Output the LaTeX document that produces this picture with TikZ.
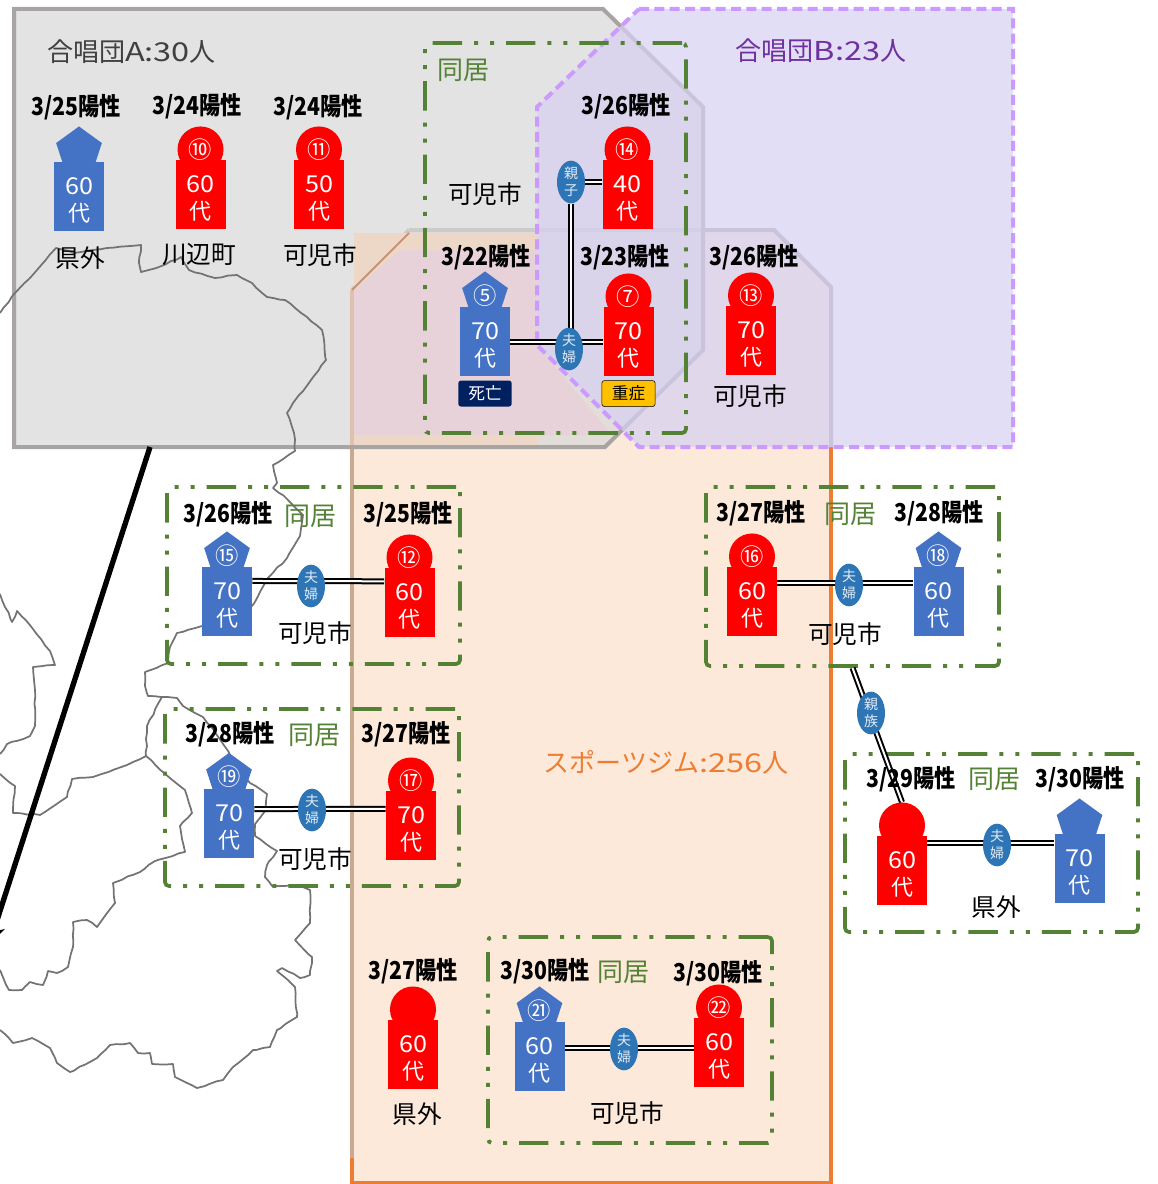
\documentclass[tikz,border=0pt]{standalone}
\usepackage{fontspec}
\setmainfont{Noto Sans CJK JP}
\newfontfamily\datefont[FakeStretch=0.86]{Noto Sans CJK JP}
\newfontfamily\widefont[FakeStretch=1.25]{Noto Sans CJK JP}
\newfontfamily\agefont[FakeStretch=1.08]{Noto Sans CJK JP}

\usetikzlibrary{shapes.geometric,arrows.meta,positioning,fit,backgrounds,decorations.pathmorphing}

\definecolor{blueperson}{HTML}{4472C4}
\definecolor{redperson}{HTML}{FF0000}
\definecolor{bondblue}{HTML}{2E75B6}
\definecolor{groupgreen}{HTML}{548235}
\definecolor{regiongray}{HTML}{D9D9D9}
\definecolor{regionedge}{HTML}{A8A4A4}
\definecolor{regionlilac}{HTML}{D7D1F2}
\definecolor{regionpurple}{HTML}{CC99FF}
\definecolor{regionpeach}{HTML}{FDE9DA}
\definecolor{regionorange}{HTML}{ED7D31}
\definecolor{overlappink}{HTML}{E8D2DA}
\definecolor{overlapbeige}{HTML}{EDD8C8}
\definecolor{fadedtan}{HTML}{C9A98F}
\definecolor{labelgray}{HTML}{404040}
\definecolor{labelpurple}{HTML}{7030A0}
\definecolor{deadnavy}{HTML}{002060}
\definecolor{severegold}{HTML}{FFC000}

\newcommand{\nendai}[1]{\rule{0pt}{19pt}{\agefont\fontsize{17.5}{20.5}\selectfont #1}\\{\fontsize{16.5}{20.5}\selectfont 代}}
\newcommand{\wide}[1]{{\widefont #1}}

\begin{document}
\begin{tikzpicture}[
    x=0.75pt, y=-0.75pt,
    malebody/.style={rectangle, minimum width=37.5pt, minimum height=51.75pt, inner sep=0pt, fill=blueperson, text=white, align=center, font=\fontsize{15}{20.5}\selectfont},
    femalebody/.style={malebody, fill=redperson},
    malehead/.style={regular polygon, regular polygon sides=5, minimum size=36pt, inner sep=0pt, fill=blueperson, text=white, font=\fontsize{17.5}{19}\selectfont},
    femalehead/.style={circle, minimum size=34.5pt, inner sep=0pt, fill=redperson, text=white, font=\fontsize{17.5}{19}\selectfont},
    bond/.style={ellipse, minimum width=21pt, minimum height=32pt, inner sep=0pt, fill=bondblue, text=white!85!bondblue, align=center, font=\fontsize{10.5}{12.5}\selectfont},
    groupbox/.style={rectangle, rounded corners=3pt, draw=groupgreen, line width=2.8pt, inner sep=0pt, dash pattern=on 22pt off 9pt on 3pt off 9pt on 3pt off 9pt},
    kinline/.style={draw=black, double=white, double distance=1.5pt, line width=1.5pt},
    datelabel/.style={font=\datefont\bfseries\fontsize{18.5}{20}\selectfont, inner sep=0pt},
    placelabel/.style={font=\fontsize{18.5}{20}\selectfont, inner sep=0pt},
    grouplabel/.style={text=groupgreen, font=\fontsize{19.5}{22}\selectfont, inner sep=0pt},
    regionlabel/.style={font=\fontsize{19.5}{22}\selectfont, inner sep=0pt},
    statelabel/.style={rectangle, rounded corners=2pt, minimum width=40pt, minimum height=19.5pt, inner sep=0pt, font=\fontsize{12.5}{14}\selectfont},
    mapline/.style={draw=black!55, line width=1.3pt, line join=round, decorate, decoration={random steps, segment length=5pt, amplitude=0.5pt}},
    arrowline/.style={line width=4pt, -{Stealth[length=15pt,width=15pt]}}
]
\useasboundingbox (0,0) rectangle (1157,1184);
\clip (0,0) rectangle (1157,1184);

% Regions
\begin{scope}[on background layer]
\fill[regionpeach] (352,1183) -- (352,290) -- (409,230) -- (774,230) -- (831,287) -- (831,1183) -- cycle;
\draw[regionorange, line width=3pt] (352,290) -- (352,1183) -- (831,1183) -- (831,447);
\draw[regionorange!60!regionedge, line width=3pt] (352,290) -- (409,230);
\draw[regionedge, line width=3pt] (409,230) -- (774,230) -- (831,287) -- (831,447);
\draw[fadedtan, line width=3pt] (352,447) -- (352,1158);
\fill[regiongray, fill opacity=0.75] (14,9) -- (603,9) -- (703,107) -- (703,350) -- (605,447) -- (14,447) -- cycle;
\fill[overlapbeige] (354,233) -- (409,233) -- (537,233) -- (537,447) -- (354,447) -- cycle;
\fill[overlappink] (354,290) -- (400,250) -- (537,250) -- (537,345) -- (612,435) -- (354,435) -- cycle;
\draw[regionedge, line width=3pt] (14,9) -- (603,9) -- (703,107) -- (703,350) -- (605,447) -- (14,447) -- cycle;
\draw[regionorange!40!regionedge, line width=1.5pt] (352,290) -- (409,233);
\fill[regionlilac, fill opacity=0.72] (639,9) -- (1013,9) -- (1013,447) -- (639,447) -- (537,345) -- (537,107) -- cycle;
\draw[regionpurple, line width=3pt, dash pattern=on 7.5pt off 4pt] (639,9) -- (1013,9) -- (1013,447) -- (639,447) -- (537,345) -- (537,107) -- cycle;

% Map
\draw[mapline] (0,313) -- (15,293) -- (37,270) -- (56,248) -- (74,253) -- (107,248) -- (141,245) -- (139,263) -- (141,272) -- (159,267) -- (181,257) -- (189,270) -- (215,278) -- (237,275) -- (252,283) -- (267,297) -- (285,300) -- (307,317) -- (322,330) -- (326,360) -- (311,380) -- (293,403) -- (287,413) -- (294,433) -- (295,451) -- (273,465) -- (277,483) -- (273,488) -- (287,499) -- (303,515) -- (300,536) -- (287,558) -- (267,579) -- (252,606) -- (225,628) -- (202,626) -- (177,633) -- (170,647) -- (168,663) -- (145,672) -- (145,686) -- (148,696) -- (177,698) -- (183,706) -- (203,717) -- (213,729) -- (230,755) -- (250,783) -- (267,794) -- (265,811) -- (255,824) -- (255,836) -- (277,851) -- (267,865) -- (265,877) -- (272,886) -- (297,885) -- (310,890) -- (310,923) -- (295,940) -- (312,957) -- (310,975) -- (300,978) -- (282,968) -- (277,971) -- (295,987) -- (297,1017) -- (277,1030) -- (270,1047) -- (253,1050) -- (233,1067) -- (223,1080) -- (197,1088) -- (175,1077) -- (173,1064) -- (152,1064) -- (150,1053) -- (138,1053) -- (130,1043) -- (110,1045) -- (97,1058) -- (70,1072) -- (57,1063) -- (50,1048) -- (32,1038) -- (13,1043) -- (0,1030);
\draw[mapline] (162,697) -- (147,726) -- (146,756) -- (127,765) -- (93,777) -- (72,779) -- (67,797) -- (40,815) -- (13,813) -- (15,786) -- (0,774);
\draw[mapline] (146,756) -- (163,772) -- (185,790) -- (192,813) -- (180,826) -- (185,852) -- (155,861) -- (140,872) -- (113,883) -- (115,903) -- (97,927) -- (87,920) -- (73,922) -- (73,947) -- (68,967) -- (57,973) -- (48,971) -- (43,985) -- (30,982) -- (22,990) -- (9,990) -- (0,970);
\draw[mapline] (0,594) -- (12,622) -- (17,611) -- (33,629) -- (50,651) -- (55,665) -- (33,667) -- (35,690) -- (35,726) -- (30,736) -- (7,744) -- (0,754);

% Groups
\node[groupbox, fit={(425,43) (686,433)}] (g1) {};
\node[groupbox, fit={(167,487) (460,664)}] (g2) {};
\node[groupbox, fit={(165,709) (459,886)}] (g3) {};
\node[groupbox, fit={(706,487) (999,666)}] (g4) {};
\node[groupbox, fit={(845,754) (1138,932)}] (g5) {};
\node[groupbox, fit={(488,937) (772,1143)}] (g6) {};
\end{scope}

% Region labels
\node[regionlabel, text=labelgray] (choira) at (131.5,52) {合唱団\wide{A:30}人};
\node[regionlabel, text=labelpurple] (choirb) at (821,51) {合唱団\wide{B:23}人};
\node[regionlabel, text=regionorange] (gym) at (666,762) {スポーツジム\wide{:256}人};

% Choir A
\node[malebody] (pa) at (79,196.5) {\nendai{60}};
\node[malehead, above=-6.3pt of pa] (ha) {};
\node[datelabel] (da) at (76,107) {3/25陽性};
\node[placelabel] (la) at (80,258) {県外};

\node[femalebody] (p10) at (200.5,194.5) {\nendai{60}};
\node[femalehead, above=-9.75pt of p10] (h10) {⑩};
\node[datelabel] (d10) at (197,106) {3/24陽性};
\node[placelabel] (l10) at (199,255) {川辺町};

\node[femalebody] (p11) at (319,194.5) {\nendai{50}};
\node[femalehead, above=-9.75pt of p11] (h11) {⑪};
\node[datelabel] (d11) at (318,107) {3/24陽性};
\node[placelabel] (l11) at (320,255) {可児市};

% Household in both choirs
\node[grouplabel] (t1) at (463,70) {同居};
\node[placelabel] (l1) at (485,194) {可児市};

\node[femalebody] (p14) at (627.5,194.5) {\nendai{40}};
\node[femalehead, above=-9.75pt of p14] (h14) {⑭};
\node[datelabel] (d14) at (626,106) {3/26陽性};

\node[malebody] (p5) at (485,341.5) {\nendai{70}};
\node[malehead, above=-6.3pt of p5] (h5) {⑤};
\node[datelabel] (d5) at (486,257) {3/22陽性};
\node[statelabel, fill=deadnavy, text=white, below=3pt of p5] (dead) {死亡};

\node[femalebody] (p7) at (628.5,341.5) {\nendai{70}};
\node[femalehead, above=-9.75pt of p7] (h7) {⑦};
\node[datelabel] (d7) at (625,257) {3/23陽性};
\node[statelabel, fill=severegold, draw=black, line width=0.4pt, below=3pt of p7] (severe) {重症};

\node[bond] (oya) at (571,182) {親\\子};
\node[bond] (fufu1) at (569,349) {夫\\婦};

% Choir B
\node[femalebody] (p13) at (751,340.5) {\nendai{70}};
\node[femalehead, above=-9.75pt of p13] (h13) {⑬};
\node[datelabel] (d13) at (754,257) {3/26陽性};
\node[placelabel] (l13) at (750,396) {可児市};

% Gym, left households
\node[malebody] (p15) at (227,601.5) {\nendai{70}};
\node[malehead, above=-6.3pt of p15] (h15) {⑮};
\node[datelabel] (d15) at (228,514) {3/26陽性};
\node[femalebody] (p12) at (409.5,602.5) {\nendai{60}};
\node[femalehead, above=-9.75pt of p12] (h12) {⑫};
\node[datelabel] (d12) at (408,514) {3/25陽性};
\node[grouplabel] (t2) at (310,516) {同居};
\node[bond] (fufu2) at (311,586) {夫\\婦};
\node[placelabel] (l2) at (315,633) {可児市};

\node[malebody] (p19) at (229,823) {\nendai{70}};
\node[malehead, above=-6.3pt of p19] (h19) {⑲};
\node[datelabel] (d19) at (230,734) {3/28陽性};
\node[femalebody] (p17) at (411,825.5) {\nendai{70}};
\node[femalehead, above=-9.75pt of p17] (h17) {⑰};
\node[datelabel] (d17) at (406,734) {3/27陽性};
\node[grouplabel] (t3) at (314,735) {同居};
\node[bond] (fufu3) at (312,810) {夫\\婦};
\node[placelabel] (l3) at (315,859) {可児市};

% Gym, right households
\node[femalebody] (p16) at (752,601.5) {\nendai{60}};
\node[femalehead, above=-9.75pt of p16] (h16) {⑯};
\node[datelabel] (d16) at (761,513) {3/27陽性};
\node[malebody] (p18) at (938.5,601.5) {\nendai{60}};
\node[malehead, above=-6.3pt of p18] (h18) {⑱};
\node[datelabel] (d18) at (939,513) {3/28陽性};
\node[grouplabel] (t4) at (850,514) {同居};
\node[bond] (fufu4) at (849,585) {夫\\婦};
\node[placelabel] (l4) at (845,634) {可児市};

\node[femalebody] (pc) at (902,870.5) {\nendai{60}};
\node[femalehead, above=-9.75pt of pc] (hc) {};
\node[datelabel] (dc) at (911,779) {3/29陽性};
\node[malebody] (pd) at (1079.5,868.5) {\nendai{70}};
\node[malehead, above=-6.3pt of pd] (hd) {};
\node[datelabel] (dd) at (1080,779) {3/30陽性};
\node[grouplabel] (t5) at (994,779) {同居};
\node[bond] (fufu5) at (997,845) {夫\\婦};
\node[placelabel] (l5) at (996,907) {県外};
\node[bond] (shinzoku) at (871,713) {親\\族};

% Gym, bottom
\node[femalebody] (pe) at (413,1054.5) {\nendai{60}};
\node[femalehead, above=-9.75pt of pe] (he) {};
\node[datelabel] (de) at (413,971) {3/27陽性};
\node[placelabel] (le) at (417,1114) {県外};

\node[malebody] (p21) at (539.5,1056.5) {\nendai{60}};
\node[malehead, above=-6.3pt of p21] (h21) {㉑};
\node[datelabel] (d21) at (545,971) {3/30陽性};
\node[femalebody] (p22) at (719,1052.5) {\nendai{60}};
\node[femalehead, above=-9.75pt of p22] (h22) {㉒};
\node[datelabel] (d22) at (718,973) {3/30陽性};
\node[grouplabel] (t6) at (623,972) {同居};
\node[bond] (fufu6) at (624,1049) {夫\\婦};
\node[placelabel] (l6) at (627,1113) {可児市};

% Arrows
\begin{scope}[on background layer]
\draw[kinline] (oya) -- (oya -| p14.west);
\draw[kinline] (oya) -- (oya |- fufu1);
\draw[kinline] (p5) -- (p7);
\draw[kinline] ([yshift=15.4pt]p15.east) -- ([yshift=15.9pt]p12.west);
\draw[kinline] ([yshift=10.5pt]p19.east) -- ([yshift=12.4pt]p17.west);
\draw[kinline] ([yshift=13.9pt]p16.east) -- ([yshift=13.9pt]p18.west);
\draw[kinline] ([yshift=20.6pt]pc.east) -- ([yshift=19.1pt]pd.west);
\draw[kinline] ([yshift=6.4pt]p21.east) -- ([yshift=3.4pt]p22.west);
\draw[kinline] (g4.south) -- (hc.north);
\end{scope}

\coordinate (mapfrom) at (150,447);
\coordinate (mapto) at (-11,945);
\draw[arrowline] (mapfrom) -- (mapto);
\end{tikzpicture}
\end{document}
